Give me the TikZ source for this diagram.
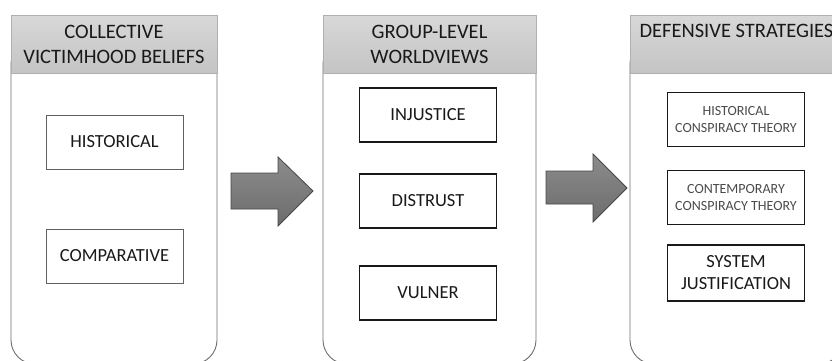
\documentclass[tikz,border=0pt]{standalone}
\usepackage{fontspec}
\setmainfont{Carlito}
\definecolor{hdtop}{RGB}{216,216,216}
\definecolor{hdbot}{RGB}{196,196,196}
\definecolor{panelline}{RGB}{110,110,110}
\definecolor{arrtop}{RGB}{140,140,140}
\definecolor{arrbot}{RGB}{108,108,108}
\definecolor{arrline}{RGB}{70,70,70}
\definecolor{txt}{RGB}{25,25,25}
\definecolor{smalltxt}{RGB}{75,75,75}
\tikzset{
  panelbody/.style={draw=panelline, line width=0.9pt, fill=white, rounded corners=24pt},
  panelhead/.style={draw=hdbot!90!black, line width=0.5pt, top color=hdtop, bottom color=hdbot},
  headtext/.style={font=\fontsize{20.5}{25}\selectfont, text=txt, align=center, inner sep=0pt},
  itembox/.style={draw=txt, line width=1.1pt, fill=white, minimum width=137pt, minimum height=54pt, inner sep=0pt, align=center, text=txt, font=\fontsize{18.5}{22}\selectfont},
  lightbox/.style={itembox, draw=gray!75!black, line width=0.8pt},
  smallbox/.style={itembox, font=\fontsize{14}{17}\selectfont, text=smalltxt},
  bigarrow/.style={draw=arrline, line width=0.8pt, top color=arrtop, bottom color=arrbot}
}
\begin{document}
\begin{tikzpicture}[x=1pt,y=-1pt]
\useasboundingbox (0,0) rectangle (832,360);
% panel 1
\path[panelbody] (11,40) rectangle (217,364);
\path[panelhead] (11,15) rectangle (217,73);
\node[headtext] (h1) at (114,44) {COLLECTIVE\\VICTIMHOOD BELIEFS};
\node[lightbox] (hist) at (114.5,142) {HISTORICAL};
\node[lightbox] (comp) at (114.5,256) {COMPARATIVE};
% panel 2
\path[panelbody] (323,40) rectangle (536,364);
\path[panelhead] (323,15) rectangle (536,73);
\node[headtext] (h2) at (429.5,44) {GROUP-LEVEL\\WORLDVIEWS};
\node[itembox] (inj) at (428,115) {INJUSTICE};
\node[itembox] (dis) at (428,201) {DISTRUST};
\node[itembox] (vul) at (428,293) {VULNER};
% panel 3
\path[panelbody] (630,40) rectangle (843,364);
\path[panelhead] (630,15) rectangle (843,73);
\node[headtext] (h3) at (736.5,31) {DEFENSIVE STRATEGIES};
\node[smallbox] (hct) at (736,119.5) {HISTORICAL\\CONSPIRACY THEORY};
\node[smallbox] (cct) at (736,197.5) {CONTEMPORARY\\CONSPIRACY THEORY};
\node[itembox, minimum height=56pt] (sj) at (736,273) {SYSTEM\\JUSTIFICATION};
% arrows
\path[bigarrow] (231,173) -- (278,173) -- (278,157) -- (313,191) -- (278,226) -- (278,209) -- (231,209) -- cycle;
\path[bigarrow] (546,171) -- (593,171) -- (593,154) -- (627,188) -- (593,222) -- (593,204) -- (546,204) -- cycle;
\end{tikzpicture}
\end{document}
